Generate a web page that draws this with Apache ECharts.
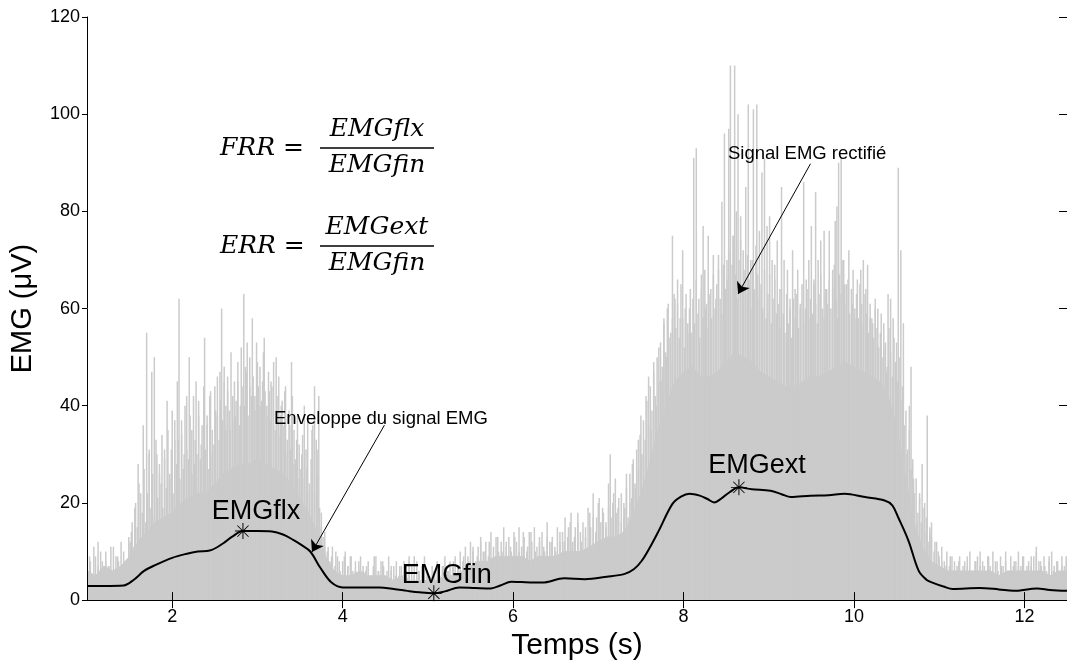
<!DOCTYPE html>
<html lang="fr">
<head>
  <meta charset="UTF-8">
  <title>EMG</title>
  <script src="https://cdn.jsdelivr.net/npm/echarts@6/dist/echarts.min.js"></script>
  <style>
    html, body { margin: 0; padding: 0; background: #fff; }
  </style>
</head>
<body>
  <div id="main" style="width:1067px;height:666px;"></div>

  <script type="text/javascript">
    // x axis ticks
    const xTicks = [2, 4, 6, 8, 10, 12];

    // dense part of the rectified signal, one value every 0.1 s from 1.0 s
    const bulkStart = 1.0;
    const bulkStep = 0.1;
    const bulkVals = [
      6, 5, 7, 6, 7,  9, 12, 14, 16, 17,  18, 20, 21, 22, 22,  24, 26, 27, 28, 28,
      29, 28, 27, 26, 24,  21, 18, 14, 9, 6,  5, 5, 6, 5, 5,  5, 4, 5, 4, 4,
      4, 4, 5, 5, 6,  7, 8, 8, 9, 9,  9, 9, 8, 9, 9,  9, 10, 10, 10, 11,
      12, 13, 13, 14, 17,  22, 28, 35, 40, 45,  47, 48, 46, 46, 47,  49, 51, 50, 49, 47,
      46, 45, 44, 44, 45,  46, 46, 47, 48, 49,  48, 47, 46, 45, 42,  36, 26, 16, 11, 8,
      7, 6, 6, 6, 6,  6, 6, 5, 6, 6,  6, 6, 6, 5, 6,  6
    ];

    // tall peaks of the rectified signal [time, amplitude]
    const spikes = [
      [1.03,9],[1.08,11],[1.13,12],[1.18,8],[1.22,10],[1.27,7],[1.31,11],[1.36,9],[1.40,12],[1.45,8],[1.49,13],
      [1.52,14],[1.56,19],[1.60,28],[1.63,22],[1.66,36],[1.70,55],[1.73,30],[1.76,47],[1.79,50],[1.82,30],
      [1.85,26],[1.88,34],[1.91,31],[1.94,41],[1.97,25],[2.00,39],[2.03,33],[2.06,45],[2.08,62],[2.11,37],
      [2.14,30],[2.17,42],[2.20,50],[2.23,35],[2.26,28],[2.28,45],[2.31,38],[2.34,32],[2.38,54],[2.41,36],
      [2.44,42],[2.47,30],[2.50,44],[2.53,38],[2.56,47],[2.58,60],[2.61,45],[2.63,40],[2.65,46],[2.68,35],
      [2.71,42],[2.74,38],[2.77,45],[2.80,40],[2.84,63],[2.86,48],[2.88,53],[2.91,44],[2.94,58],[2.97,42],
      [3.00,49],[3.03,40],[3.06,45],[3.08,54],[3.11,38],[3.14,43],[3.16,45],[3.19,36],[3.22,50],[3.25,34],
      [3.28,40],[3.32,43],[3.35,30],[3.38,36],[3.40,49],[3.43,28],[3.46,33],[3.49,25],[3.52,30],[3.55,40],
      [3.58,27],[3.61,22],[3.64,35],[3.67,44],[3.70,31],[3.72,42],[3.75,18],[3.79,14],[3.83,11],[3.87,9],
      [3.92,10],[3.96,8],
      [4.02,9],[4.06,7],[4.10,9],[4.15,6],[4.19,8],[4.24,6],[4.28,7],[4.33,5],[4.37,9],[4.42,6],[4.47,8],
      [4.52,6],[4.57,7],[4.62,5],[4.67,7],[4.72,6],[4.78,8],[4.84,9],[4.89,6],[4.95,7],[5.00,5],[5.06,6],
      [5.12,5],[5.18,7],[5.24,6],[5.30,8],[5.36,7],[5.42,9],[5.48,8],[5.53,11],[5.58,9],[5.62,12],[5.67,10],
      [5.72,12],[5.77,9],[5.82,13],[5.87,10],[5.92,12],[5.97,11],[6.02,13],[6.07,10],[6.12,14],[6.17,11],
      [6.21,14],[6.26,10],[6.31,12],[6.36,11],[6.40,13],[6.45,12],[6.50,10],[6.55,14],[6.60,12],[6.65,15],
      [6.68,18],[6.72,13],[6.76,16],[6.80,12],[6.85,15],[6.90,18],[6.94,22],[6.98,17],[7.01,21],[7.05,19],
      [7.09,16],[7.12,24],[7.14,30],[7.17,20],[7.20,25],[7.23,19],[7.27,22],[7.30,17],[7.33,26],[7.37,20],
      [7.40,28],[7.44,23],[7.47,33],[7.50,38],[7.53,30],[7.56,42],[7.59,46],[7.62,35],[7.65,49],[7.68,40],
      [7.71,52],[7.74,45],[7.77,58],[7.80,50],[7.82,61],[7.85,55],[7.87,75],[7.90,62],[7.93,66],[7.96,58],
      [7.99,72],[8.02,60],[8.05,55],[8.08,64],[8.12,91],[8.15,93],[8.18,62],[8.21,67],[8.23,77],[8.26,60],
      [8.29,75],[8.32,64],[8.35,71],[8.38,62],[8.41,68],[8.45,82],[8.48,96],[8.51,70],[8.53,97],[8.55,110],
      [8.58,75],[8.60,110],[8.62,80],[8.64,100],[8.67,79],[8.70,72],[8.73,85],[8.76,102],[8.79,70],[8.82,101],
      [8.86,102],[8.89,76],[8.92,88],[8.95,91],[8.98,77],[9.01,79],[9.04,70],[9.07,69],[9.10,74],[9.13,64],
      [9.15,85],[9.18,70],[9.22,68],[9.25,62],[9.28,72],[9.31,64],[9.34,68],[9.37,60],[9.41,86],[9.44,66],
      [9.47,70],[9.50,77],[9.53,66],[9.55,84],[9.58,70],[9.61,74],[9.65,76],[9.68,64],[9.71,76],[9.75,68],
      [9.78,78],[9.80,81],[9.82,90],[9.85,91],[9.88,70],[9.91,65],[9.94,72],[9.98,61],[10.01,58],[10.04,66],
      [10.08,68],[10.11,70],[10.14,64],[10.16,69],[10.19,58],[10.22,57],[10.25,62],[10.28,60],[10.32,59],
      [10.35,52],[10.38,47],[10.40,63],[10.43,62],[10.46,58],[10.50,53],[10.52,89],[10.55,72],[10.58,57],
      [10.62,30],[10.65,40],[10.67,48],[10.70,25],[10.74,16],[10.77,22],[10.80,28],[10.83,20],[10.86,38],
      [10.89,14],[10.91,16],[10.95,12],[10.99,10],
      [11.03,8],[11.08,7],[11.13,9],[11.18,6],[11.23,8],[11.28,7],[11.33,9],[11.38,6],[11.43,8],[11.48,10],
      [11.53,7],[11.58,9],[11.63,6],[11.68,8],[11.73,7],[11.78,10],[11.83,6],[11.88,8],[11.93,7],[11.98,9],
      [12.03,7],[12.08,9],[12.14,10],[12.19,8],[12.24,7],[12.29,9],[12.34,6],[12.39,8],[12.44,7],[12.49,9]
    ];

    // smaller peaks filling the gaps, read on regular time steps
    const minorA = { start: 1.01, step: 0.03, vals: [6, 8, 5, 9, 7, 10, 6, 8, 7, 11, 6, 9, 8, 7, 10, 8, 12] };
    const minorB = { start: 1.51, step: 0.02, vals: [
      12, 16, 11, 20, 15, 24, 13, 18, 27, 16,  22, 31, 19, 26, 17, 33, 21, 28, 24, 19,
      29, 23, 35, 26, 31, 22, 37, 28, 33, 25,  34, 27, 40, 31, 29, 38, 26, 42, 33, 30,
      41, 29, 36, 44, 31, 38, 27, 43, 35, 32,  39, 46, 33, 41, 37, 48, 35, 43, 39, 51,
      37, 45, 41, 49, 36, 52, 44, 40, 47, 38,  50, 42, 46, 39, 53, 44, 48, 41, 51, 43,
      40, 47, 37, 44, 49, 35, 42, 46, 38, 41,  36, 44, 33, 39, 31, 42, 35, 29, 38, 32,
      27, 34, 25, 31, 38, 24, 29, 36, 22, 33,  26, 19, 15, 13, 11
    ] };
    const minorC = { start: 3.82, step: 0.03, vals: [
      10, 8, 11, 7, 9, 6, 8, 10, 7, 9,  6, 8, 5, 9, 7, 6, 8, 5, 7, 9,
      6, 8, 7, 5, 9, 6, 7, 8, 5, 7,  8, 6, 9, 7, 5, 8, 6, 7, 9, 6,
      5, 7, 6, 8, 5, 7, 9, 6, 8, 7,  9, 7, 10, 8, 11, 9, 12, 10, 8, 11,
      13, 10, 12, 9, 14, 11, 13, 10, 12, 15,  11, 13, 10, 14, 12, 15, 11, 13, 10, 14,
      12, 15, 11, 13, 14, 10, 16, 12, 13, 11,  15, 12, 14, 17, 13, 16, 12, 15, 18, 14,
      16, 13, 19, 15, 17, 14, 20, 16, 18, 15,  19, 17, 22, 18, 21, 16, 20
    ] };
    const minorD = { start: 7.31, step: 0.02, vals: [
      19, 23, 17, 26, 21, 29, 24, 31, 27, 34,  30, 37, 33, 41, 36, 44, 39, 47, 42, 50,
      45, 53, 48, 57, 51, 60, 54, 49, 58, 63,  56, 61, 54, 65, 58, 52, 63, 57, 60, 55,
      62, 57, 66, 59, 54, 64, 58, 68, 61, 56,  63, 58, 67, 60, 65, 71, 62, 59, 69, 64,
      66, 72, 63, 69, 75, 67, 62, 70, 74, 65,  68, 63, 71, 66, 60, 70, 64, 73, 67, 62,
      65, 60, 68, 58, 63, 67, 57, 62, 66, 59,  61, 56, 64, 59, 55, 63, 57, 60, 54, 62,
      58, 63, 56, 61, 65, 57, 60, 64, 58, 62,  59, 65, 61, 57, 63, 67, 60, 58, 64, 61,
      66, 60, 64, 69, 62, 58, 67, 63, 70, 65,  61, 66, 59, 64, 68, 60, 63, 58, 65, 61,
      57, 63, 59, 55, 61, 58, 54, 60, 56, 52,  55, 50, 57, 53, 48, 56, 51, 46, 54, 49,
      45, 50, 41, 44, 36, 39, 31, 35, 27, 29,  22, 25, 18, 21, 16, 19, 14, 17, 12, 15
    ] };
    const minorE = { start: 10.91, step: 0.03, vals: [
      13, 10, 12, 9, 11, 8, 10, 7, 9, 8,  7, 9, 6, 8, 7, 10, 6, 8, 9, 7,
      8, 6, 9, 7, 10, 8, 6, 9, 7, 8,  6, 9, 7, 8, 10, 7, 9, 6, 8, 7,
      9, 11, 8, 7, 9, 6, 8, 10, 7, 8,  6, 9, 7, 8
    ] };

    // envelope (black curve)
    const envTime = [
      1.0, 1.2, 1.43, 1.55, 1.67, 1.8, 2.0, 2.16, 2.3, 2.44, 2.6, 2.7, 2.83, 3.0, 3.17, 3.3, 3.42, 3.52,
      3.62, 3.74, 3.87, 4.0, 4.2, 4.43, 4.6, 4.76, 4.9, 5.07, 5.2, 5.37, 5.55, 5.74, 5.85, 5.98, 6.1, 6.34,
      6.6, 6.84, 7.1, 7.31, 7.42, 7.51, 7.61, 7.71, 7.87, 7.97, 8.07, 8.19, 8.28, 8.36, 8.45, 8.54, 8.65,
      8.8, 9.02, 9.15, 9.26, 9.49, 9.7, 9.89, 10.13, 10.36, 10.45, 10.52, 10.64, 10.76, 10.85, 10.92, 11.05,
      11.16, 11.47, 11.7, 11.87, 12.15, 12.3, 12.5
    ];
    const envVals = [
      2.9, 2.9, 3.0, 4.2, 6.0, 7.2, 8.7, 9.5, 10.0, 10.2, 11.7, 13.0, 14.2, 14.2, 14.1, 13.5, 12.4, 11.3,
      10.0, 6.6, 3.6, 2.6, 2.6, 2.6, 2.3, 1.9, 1.6, 1.4, 1.8, 2.6, 2.5, 2.4, 3.0, 3.8, 3.7, 3.6,
      4.5, 4.3, 4.8, 5.4, 6.4, 8.1, 11.0, 14.3, 19.8, 21.3, 21.9, 21.5, 20.8, 20.1, 21.0, 22.2, 23.2,
      22.8, 22.5, 21.8, 21.2, 21.5, 21.6, 21.9, 21.2, 20.5, 19.5, 17.0, 12.2, 6.0, 4.2, 3.6, 2.8,
      2.3, 2.5, 2.2, 1.9, 2.4, 2.1, 1.9
    ];

    // points picked on the envelope
    const markNames = ['EMGflx', 'EMGfin', 'EMGext'];
    const markTime = [2.83, 5.07, 8.65];
    const markVals = [14.2, 1.4, 23.2];
    const markLabelOffsets = [[13, 2], [13, 4], [18, 0]];

    const gray = '#cbcbcb';
    const sans = 'Liberation Sans, Arial, sans-serif';
    const mathFont = 'DejaVu Serif, serif';
    const starPath = 'path://M9.4,0H10.6V20H9.4Z M0,9.4H20V10.6H0Z M2.6,3.4L3.4,2.6L17.4,16.6L16.6,17.4Z M16.6,2.6L17.4,3.4L3.4,17.4L2.6,16.6Z';

    const bulkData = bulkVals.map((v, i) => [+(bulkStart + i * bulkStep).toFixed(2), v]);
    let spikeData = spikes.slice();
    [minorA, minorB, minorC, minorD, minorE].forEach(m => {
      m.vals.forEach((v, i) => spikeData.push([+(m.start + i * m.step).toFixed(3), v]));
    });
    spikeData.sort((a, b) => a[0] - b[0]);
    const envData = envTime.map((t, i) => [t, envVals[i]]);
    const markData = markTime.map((t, i) => ({
      value: [t, markVals[i]],
      name: markNames[i],
      label: { offset: markLabelOffsets[i] }
    }));

    const tickStyle = { show: true, inside: true, length: 8, lineStyle: { color: '#000', width: 1 } };

    let myChart = echarts.init(document.getElementById('main'), null, { renderer: 'canvas' });

    let options = {
      animation: false,
      backgroundColor: '#fff',
      grid: { left: 87, right: 0, top: 17, bottom: 62 },
      xAxis: [{
        type: 'value', min: 1, max: 12.5, z: 5,
        name: 'Temps (s)', nameLocation: 'middle', nameGap: 28,
        nameTextStyle: { fontFamily: sans, fontSize: 30, color: '#000' },
        axisLine: { show: true, onZero: false, lineStyle: { color: '#000', width: 1 } },
        axisTick: Object.assign({ customValues: xTicks }, tickStyle),
        axisLabel: { customValues: xTicks, fontFamily: sans, fontSize: 18, color: '#000', margin: 8 },
        splitLine: { show: false }
      }, {
        type: 'value', min: 1, max: 12.5, position: 'top', z: 5,
        axisLine: { show: true, lineStyle: { color: '#000', width: 1 } },
        axisTick: Object.assign({ customValues: xTicks }, tickStyle),
        axisLabel: { show: false },
        splitLine: { show: false }
      }],
      yAxis: [{
        type: 'value', min: 0, max: 120, interval: 20, z: 5,
        name: 'EMG (\u03bcV)', nameLocation: 'middle', nameGap: 50,
        nameTextStyle: { fontFamily: sans, fontSize: 29, color: '#000' },
        axisLine: { show: true, lineStyle: { color: '#000', width: 1 } },
        axisTick: { show: true, inside: false, length: 5, lineStyle: { color: '#000' } },
        axisLabel: { fontFamily: sans, fontSize: 18, color: '#000', margin: 7 },
        splitLine: { show: false }
      }, {
        type: 'value', min: 0, max: 120, interval: 20, position: 'right', z: 5,
        axisLine: { show: false },
        axisTick: tickStyle,
        axisLabel: { show: false },
        splitLine: { show: false }
      }],
      series: [{
        name: 'bulk', type: 'line', data: bulkData, symbol: 'none', z: 1,
        lineStyle: { color: gray, width: 1 },
        areaStyle: { color: gray, opacity: 1 },
        silent: true
      }, {
        name: 'spikes', type: 'bar', data: spikeData, barWidth: 1.5, z: 1,
        itemStyle: { color: gray },
        silent: true
      }, {
        name: 'enveloppe', type: 'line', data: envData, symbol: 'none', smooth: 0.35, z: 3,
        lineStyle: { color: '#000', width: 2 },
        markLine: {
          silent: true, symbol: ['none', 'arrow'], symbolSize: 11,
          label: { show: false },
          lineStyle: { color: '#000', width: 1, type: 'solid' },
          data: [
            [{ coord: [4.49, 36] }, { coord: [3.64, 9.9] }],
            [{ coord: [9.49, 89.8] }, { coord: [8.64, 63] }]
          ]
        }
      }, {
        name: 'marks', type: 'scatter', data: markData, z: 4,
        symbol: starPath, symbolSize: 16,
        itemStyle: { color: '#000', opacity: 1 },
        label: {
          show: true, position: 'top', distance: 0, formatter: '{b}',
          fontFamily: sans, fontSize: 27, color: '#000', opacity: 1, textBorderWidth: 0
        }
      }],
      graphic: [
        // annotations
        { type: 'text', z: 100, x: 274, y: 419, style: { text: 'Enveloppe du signal EMG', font: '18.5px ' + sans, fill: '#000', verticalAlign: 'middle' } },
        { type: 'text', z: 100, x: 728, y: 154, style: { text: 'Signal EMG rectifi\u00e9', font: '18.5px ' + sans, fill: '#000', verticalAlign: 'middle' } },
        // FRR = EMGflx / EMGfin
        { type: 'text', z: 100, x: 220, y: 148, style: { text: 'FRR =', font: 'italic 25px ' + mathFont, fill: '#000', verticalAlign: 'middle' } },
        { type: 'text', z: 100, x: 377, y: 129, style: { text: 'EMGflx', font: 'italic 25px ' + mathFont, fill: '#000', align: 'center', verticalAlign: 'middle' } },
        { type: 'line', z: 100, shape: { x1: 320, y1: 148, x2: 434, y2: 148 }, style: { stroke: '#000', lineWidth: 1.5 } },
        { type: 'text', z: 100, x: 377, y: 165, style: { text: 'EMGfin', font: 'italic 25px ' + mathFont, fill: '#000', align: 'center', verticalAlign: 'middle' } },
        // ERR = EMGext / EMGfin
        { type: 'text', z: 100, x: 220, y: 246, style: { text: 'ERR =', font: 'italic 25px ' + mathFont, fill: '#000', verticalAlign: 'middle' } },
        { type: 'text', z: 100, x: 377, y: 227, style: { text: 'EMGext', font: 'italic 25px ' + mathFont, fill: '#000', align: 'center', verticalAlign: 'middle' } },
        { type: 'line', z: 100, shape: { x1: 320, y1: 246, x2: 434, y2: 246 }, style: { stroke: '#000', lineWidth: 1.5 } },
        { type: 'text', z: 100, x: 377, y: 263, style: { text: 'EMGfin', font: 'italic 25px ' + mathFont, fill: '#000', align: 'center', verticalAlign: 'middle' } }
      ]
    };

    myChart.setOption(options);
  </script>
</body>
</html>
